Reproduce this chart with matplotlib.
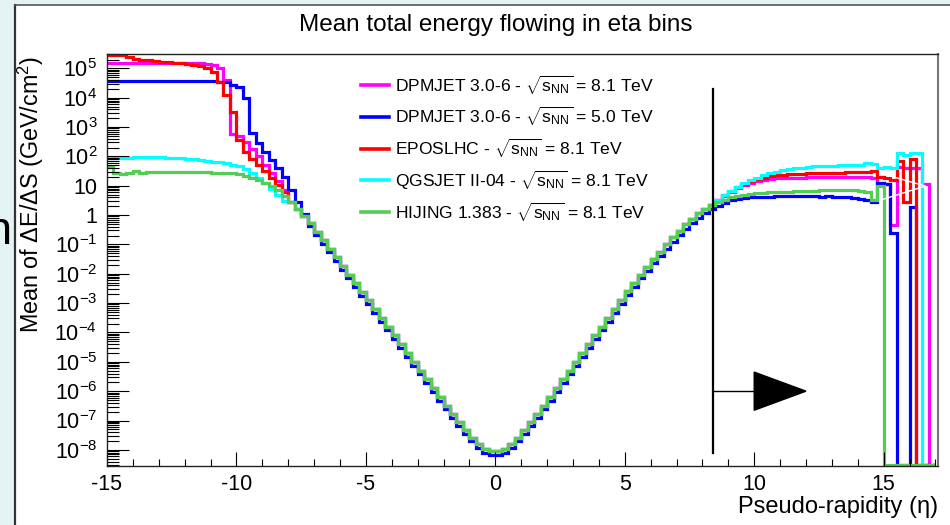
import matplotlib
matplotlib.use("Agg")
import matplotlib.pyplot as plt
import numpy as np
from matplotlib.lines import Line2D
from matplotlib.patches import Polygon, Rectangle
from matplotlib.ticker import FixedFormatter, FixedLocator, LogLocator, MultipleLocator, NullFormatter

plt.rcParams["font.family"] = ["Liberation Sans", "DejaVu Sans"]
plt.rcParams["mathtext.fontset"] = "custom"
plt.rcParams["mathtext.rm"] = "Liberation Sans"
plt.rcParams["mathtext.it"] = "Liberation Sans:italic"
plt.rcParams["mathtext.bf"] = "Liberation Sans:bold"
plt.rcParams["axes.unicode_minus"] = False

# histogram binning: 0.25 wide bins in pseudo-rapidity
eta_edges = np.arange(-15.0, 17.0001, 0.25)

# log10 of bin contents (None = empty bin)
# forward-backward region eta < -8
magenta_left = [5.2, 5.2, 5.2, 5.2, 5.2, 5.2, 5.2, 5.2, 5.2, 5.19, 5.19, 5.19, 5.18, 5.18,
                5.17, 5.15, 5.1, 5.0, 4.6, 2.78, 2.7, 2.5, 2.25, 2.0, 1.72, 1.45, 1.15, 0.85]
blue_left = [4.56, 4.56, 4.56, 4.56, 4.56, 4.56, 4.56, 4.56, 4.56, 4.56, 4.56, 4.56, 4.56, 4.56,
             4.56, 4.56, 4.56, 4.55, 4.52, 4.45, 4.35, 4.0, 2.79, 2.45, 2.14, 1.87, 1.6, 1.3]
red_left = [5.45, 5.45, 5.45, 5.38, 5.33, 5.3, 5.27, 5.25, 5.23, 5.21, 5.2, 5.18, 5.16, 5.13,
            5.08, 5.0, 4.87, 4.53, 4.1, 3.5, 2.55, 2.15, 1.9, 1.7, 1.5, 1.28, 1.03, 0.78]
cyan_left = [1.93, 1.94, 1.95, 1.96, 1.97, 1.97, 1.97, 1.97, 1.97, 1.96, 1.95, 1.94, 1.92, 1.9,
             1.87, 1.84, 1.82, 1.8, 1.77, 1.72, 1.66, 1.56, 1.43, 1.28, 1.1, 0.9, 0.68, 0.48]
green_left = [1.63, 1.43, 1.4, 1.42, 1.5, 1.45, 1.46, 1.46, 1.47, 1.47, 1.47, 1.47, 1.46, 1.46,
              1.46, 1.46, 1.45, 1.45, 1.44, 1.42, 1.39, 1.34, 1.28, 1.2, 1.1, 0.98, 0.84, 0.66]

# central region -8 < eta < 8.5 (curves overlap, DPMJET 5.0 TeV slightly lower)
core_left = [0.45, 0.22, -0.02, -0.28, -0.56, -0.85, -1.14, -1.44, -1.74, -2.03, -2.32, -2.61,
             -2.9, -3.2, -3.5, -3.8, -4.1, -4.4, -4.7, -5.0, -5.3, -5.6, -5.9, -6.2,
             -6.49, -6.78, -7.06, -7.33, -7.58, -7.8, -7.96, -8.04]
core_right = [-8.04, -7.96, -7.8, -7.58, -7.33, -7.06, -6.78, -6.49, -6.2, -5.9, -5.6, -5.3,
              -5.0, -4.7, -4.4, -4.1, -3.8, -3.5, -3.2, -2.9, -2.6, -2.31, -2.03, -1.76,
              -1.5, -1.25, -1.0, -0.76, -0.53, -0.32, -0.12, 0.06, 0.22, 0.36]
blue_core_left = [0.85, 0.45, 0.05, -0.38, -0.68, -0.98, -1.27, -1.57, -1.87, -2.16, -2.45, -2.74,
                  -3.03, -3.33, -3.63, -3.93, -4.23, -4.53, -4.83, -5.13, -5.43, -5.73, -6.03, -6.33,
                  -6.62, -6.91, -7.19, -7.46, -7.71, -7.93, -8.09, -8.17]
blue_core_right = [-8.17, -8.09, -7.93, -7.71, -7.46, -7.19, -6.91, -6.62, -6.33, -6.03, -5.73, -5.43,
                   -5.13, -4.83, -4.53, -4.23, -3.93, -3.63, -3.33, -3.03, -2.73, -2.44, -2.16, -1.9,
                   -1.64, -1.39, -1.14, -0.9, -0.67, -0.46, -0.27, -0.09, 0.07, 0.21]

# forward region eta > 8.5
magenta_right = [0.5, 0.66, 0.8, 0.93, 1.04, 1.1, 1.16, 1.2, 1.23, 1.25, 1.26, 1.27, 1.28, 1.28,
                 1.29, 1.29, 1.29, 1.3, 1.3, 1.3, 1.3, 1.31, 1.31, 1.29, 1.25, 1.1, 1.05, -0.34,
                 1.65, 1.6, 1.6, 1.6, 1.05, None]
blue_right = [0.3, 0.42, 0.5, 0.55, 0.58, 0.6, 0.62, 0.63, 0.63, 0.64, 0.64, 0.64, 0.65, 0.65,
              0.64, 0.64, 0.62, 0.64, 0.62, 0.6, 0.6, 0.58, 0.55, 0.5, 0.45, 1.1, 1.05, -0.61,
              None, None, 0.27, None, None, None]
red_right = [0.52, 0.68, 0.83, 0.96, 1.07, 1.16, 1.23, 1.28, 1.32, 1.35, 1.37, 1.39, 1.4, 1.41,
             1.42, 1.42, 1.43, 1.44, 1.44, 1.45, 1.46, 1.47, 1.48, 1.47, 1.5, 1.3, 1.28, 1.2,
             1.85, 0.45, 1.9, None, None, None]
cyan_right = [0.52, 0.68, 0.83, 0.96, 1.08, 1.18, 1.27, 1.35, 1.42, 1.47, 1.52, 1.56, 1.6, 1.62,
              1.64, 1.66, 1.67, 1.68, 1.69, 1.7, 1.71, 1.71, 1.72, 1.76, 1.74, 1.62, 1.65, 1.6,
              2.1, 2.06, 2.12, 2.12, None, None]
green_right = [0.45, 0.53, 0.6, 0.65, 0.69, 0.72, 0.75, 0.77, 0.78, 0.79, 0.8, 0.8, 0.81, 0.82,
               0.82, 0.83, 0.84, 0.84, 0.85, 0.86, 0.85, 0.84, 0.83, 0.8, 0.5, 1.0,
               None, None, None, None, None, None, None, None]

series_labels = [
    r"DPMJET 3.0-6 - $\sqrt{\mathrm{s}_{\mathrm{NN}}}$ = 8.1 TeV",
    r"DPMJET 3.0-6 - $\sqrt{\mathrm{s}_{\mathrm{NN}}}$ = 5.0 TeV",
    r"EPOSLHC - $\sqrt{\mathrm{s}_{\mathrm{NN}}}$ = 8.1 TeV",
    r"QGSJET II-04 - $\sqrt{\mathrm{s}_{\mathrm{NN}}}$ = 8.1 TeV",
    r"HIJING 1.383 - $\sqrt{\mathrm{s}_{\mathrm{NN}}}$ = 8.1 TeV",
]
series_logs = [
    magenta_left + core_left + core_right + magenta_right,
    blue_left + blue_core_left + blue_core_right + blue_right,
    red_left + core_left + core_right + red_right,
    cyan_left + core_left + core_right + cyan_right,
    green_left + core_left + core_right + green_right,
]
series_colors = ["#ff00ff", "#0000ff", "#ff0000", "#00ffff", "#55cc55"]

y_tick_values = [1e5, 1e4, 1e3, 1e2, 1e1, 1e0, 1e-1, 1e-2, 1e-3, 1e-4, 1e-5, 1e-6, 1e-7, 1e-8]
y_tick_labels = [r"$10^{5}$", r"$10^{4}$", r"$10^{3}$", r"$10^{2}$", "10", "1", r"$10^{-1}$",
                 r"$10^{-2}$", r"$10^{-3}$", r"$10^{-4}$", r"$10^{-5}$", r"$10^{-6}$",
                 r"$10^{-7}$", r"$10^{-8}$"]

# acceptance marker (eta > 8.4)
cut_eta = 8.4
cut_line_range = (8e-9, 2e4)
arrow_y = 1e-6
arrow_head = (10.0, 12.0)
# stray white outline near the forward edge
white_marker_eta = (14.87, 16.61)
white_marker_log = (1.43, 0.99, 0.51)

y_min, y_max = 10 ** -8.55, 10 ** 5.49
x_min, x_max = -15.0, 17.1

W, H = 950, 525


def fx(px):
    return px / W


def fy(py):
    return 1 - py / H


fig = plt.figure(figsize=(9.5, 5.25), dpi=100, facecolor="#e4f4f4")
fig.patches.append(Rectangle((fx(15), 0), fx(935), fy(5), transform=fig.transFigure,
                             facecolor="white", edgecolor="none", zorder=-5))
fig.add_artist(Line2D([fx(15), fx(15)], [0, fy(5)], color="#333333", lw=1.6))
fig.add_artist(Line2D([fx(15), 1], [fy(5), fy(5)], color="#555555", lw=1.2))
fig.text(fx(-14), fy(232), "n", fontsize=34, color="black", va="center", ha="left")

ax = fig.add_axes([fx(107), fy(466), fx(938 - 107), (466 - 54) / H])
ax.set_facecolor("white")
ax.set_zorder(2)

for logs, color in zip(series_logs, series_colors):
    values = np.array([10.0 ** v if v is not None else 10 ** -8.52 for v in logs])
    ax.stairs(values, eta_edges, color=color, lw=2.3, baseline=None)

ax.plot([white_marker_eta[0], white_marker_eta[1], white_marker_eta[0]],
        [10 ** white_marker_log[0], 10 ** white_marker_log[1], 10 ** white_marker_log[2]],
        color="white", lw=1.0)

ax.plot([cut_eta, cut_eta], cut_line_range, color="black", lw=1.6)
ax.plot([cut_eta, arrow_head[0]], [arrow_y, arrow_y], color="black", lw=1.0)
ax.add_patch(Polygon([[arrow_head[0], arrow_y * 10 ** 0.65], [arrow_head[1], arrow_y],
                      [arrow_head[0], arrow_y * 10 ** -0.65]], closed=True,
                     facecolor="black", edgecolor="black"))

ax.set_yscale("log")
ax.set_xlim(x_min, x_max)
ax.set_ylim(y_min, y_max)

ax.yaxis.set_major_locator(FixedLocator(y_tick_values))
ax.yaxis.set_major_formatter(FixedFormatter(y_tick_labels))
ax.yaxis.set_minor_locator(LogLocator(base=10, subs=np.arange(2, 10), numticks=100))
ax.yaxis.set_minor_formatter(NullFormatter())
ax.xaxis.set_major_locator(MultipleLocator(5))
ax.xaxis.set_minor_locator(MultipleLocator(1))

ax.tick_params(axis="y", which="major", direction="in", length=16, width=0.8, labelsize=15.5, pad=7)
ax.tick_params(axis="y", which="minor", direction="in", length=8.5, width=0.8)
ax.tick_params(axis="x", which="major", direction="in", length=10, width=0.8, labelsize=15.5, pad=6)
ax.tick_params(axis="x", which="minor", direction="in", length=5, width=0.8)
for side in ["left", "bottom", "top"]:
    ax.spines[side].set_color("#222222")
    ax.spines[side].set_linewidth(1.0)
ax.spines["right"].set_color("#777777")
ax.spines["right"].set_linewidth(1.5)

fig.text(fx(496), fy(25), "Mean total energy flowing in eta bins", fontsize=17.5,
         ha="center", va="center")
fig.text(fx(31), fy(56), r"Mean of $\Delta$E/$\Delta$S (GeV/cm$^{2}$)", fontsize=16.8,
         rotation=90, ha="center", va="top")
fig.text(fx(938), fy(507), "Pseudo-rapidity (\u03b7)", fontsize=17, ha="right", va="center")

for i, (label, color) in enumerate(zip(series_labels, series_colors)):
    row_y = fy(85 + 31.8 * i)
    fig.add_artist(Line2D([fx(361), fx(389)], [row_y, row_y], color=color, lw=2.6, zorder=6))
    fig.text(fx(395), row_y, label, fontsize=12.6, ha="left", va="center", zorder=6)

fig.savefig("out.png", dpi=100, facecolor=fig.get_facecolor())
